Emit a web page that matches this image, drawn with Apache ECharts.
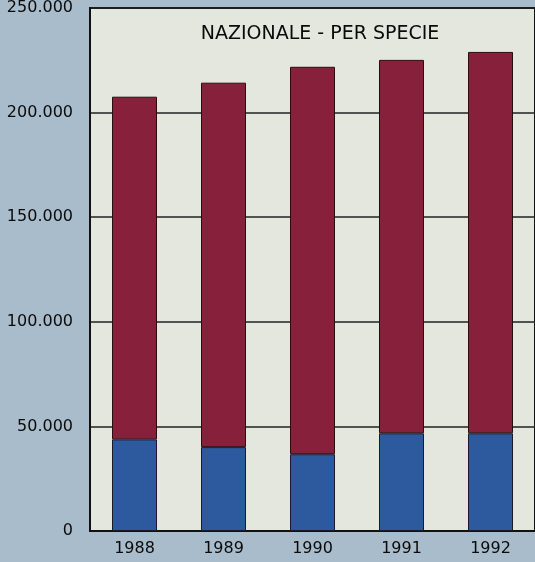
<!DOCTYPE html>
<html>
<head>
<meta charset="utf-8">
<script src="https://cdn.jsdelivr.net/npm/echarts@6/dist/echarts.min.js"></script>
<style>
html,body{margin:0;padding:0;background:#a9bccb;}
#c{width:535px;height:562px;}
</style>
</head>
<body>
<div id="c"></div>
<script>
var years = ['1988','1989','1990','1991','1992'];
var bottomValues = [43800, 40100, 36700, 46700, 46700];
var totalValues = [207600, 214300, 221900, 225200, 229000];
var topValues = totalValues.map(function(t, i){ return t - bottomValues[i]; });
var yTicks = { min: 0, max: 250000, interval: 50000 };
var chartTitle = 'NAZIONALE - PER SPECIE';

var chart = echarts.init(document.getElementById('c'));
function fmt(v){ return String(v).replace(/\B(?=(\d{3})+(?!\d))/g, '.'); }
var FONT = 'DejaVu Sans, Liberation Sans, Arial, sans-serif';
chart.setOption({
  backgroundColor: '#a9bccb',
  animation: false,
  title: {
    text: chartTitle,
    left: 315, top: 20, textAlign: 'center',
    textStyle: { fontFamily: FONT, fontSize: 19, fontWeight: 'normal', color: '#0a0a0a' }
  },
  grid: { left: 90, top: 8, width: 449, height: 523, show: true, backgroundColor: '#e4e7de', borderColor: '#111', borderWidth: 2 },
  xAxis: {
    type: 'category', data: years,
    axisLine: { show: true, lineStyle: { color: '#111', width: 2 } },
    axisTick: { show: false },
    axisLabel: { color: '#0a0a0a', fontSize: 16, fontFamily: FONT, margin: 10 }
  },
  yAxis: {
    type: 'value', min: yTicks.min, max: yTicks.max, interval: yTicks.interval,
    axisLine: { show: true, lineStyle: { color: '#111', width: 2 } },
    axisTick: { show: false },
    splitLine: { show: true, lineStyle: { color: '#222', width: 1.5 } },
    axisLabel: { color: '#0a0a0a', fontSize: 16, fontFamily: FONT, margin: 17, formatter: fmt }
  },
  series: [
    { type: 'bar', stack: 's', data: bottomValues, barWidth: 45,
      itemStyle: { color: '#2d5a9e', borderColor: '#1a1a2a', borderWidth: 1 } },
    { type: 'bar', stack: 's', data: topValues, barWidth: 45,
      itemStyle: { color: '#87203a', borderColor: '#2a0d12', borderWidth: 1 } }
  ]
});
</script>
</body>
</html>
